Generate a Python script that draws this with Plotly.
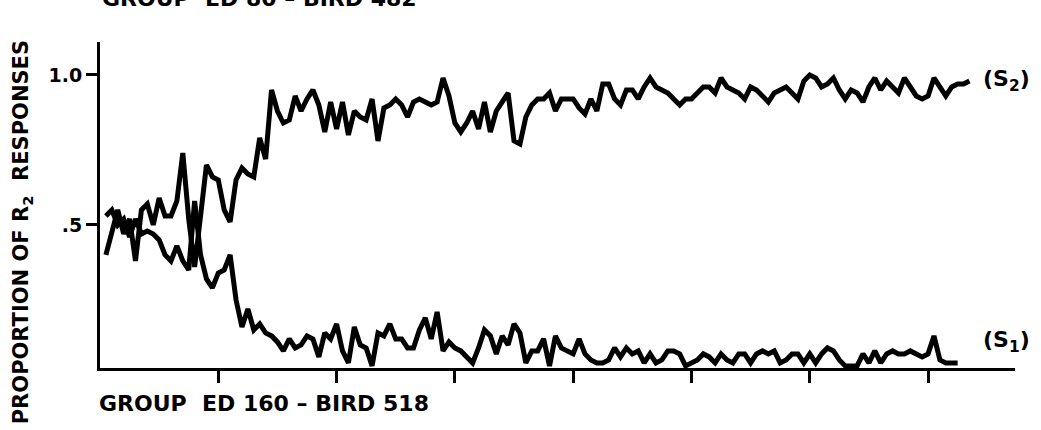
import plotly.graph_objects as go

# Session index (x) and proportion of R2 responses for each stimulus
sessions_s2 = list(range(1, 148))
s2_values = [
    0.40, 0.47, 0.55, 0.47, 0.52, 0.38, 0.55, 0.57, 0.50, 0.59,
    0.53, 0.53, 0.58, 0.74, 0.52, 0.36, 0.55, 0.70, 0.66, 0.65,
    0.55, 0.51, 0.65, 0.69, 0.67, 0.66, 0.79, 0.72, 0.95, 0.88,
    0.84, 0.85, 0.93, 0.88, 0.92, 0.95, 0.90, 0.81, 0.91, 0.82,
    0.91, 0.80, 0.88, 0.86, 0.85, 0.92, 0.78, 0.89, 0.90, 0.92,
    0.90, 0.86, 0.91, 0.92, 0.91, 0.90, 0.91, 0.99, 0.93, 0.84,
    0.81, 0.84, 0.88, 0.82, 0.91, 0.81, 0.88, 0.91, 0.94, 0.78,
    0.77, 0.86, 0.90, 0.92, 0.92, 0.94, 0.88, 0.92, 0.92, 0.92,
    0.89, 0.87, 0.92, 0.88, 0.97, 0.97, 0.92, 0.90, 0.95, 0.95,
    0.92, 0.96, 0.99, 0.96, 0.95, 0.94, 0.92, 0.90, 0.92, 0.92,
    0.94, 0.96, 0.96, 0.94, 0.99, 0.96, 0.95, 0.94, 0.92, 0.96,
    0.95, 0.93, 0.91, 0.94, 0.95, 0.96, 0.94, 0.92, 0.98, 1.00,
    0.99, 0.96, 0.97, 0.99, 0.95, 0.92, 0.95, 0.94, 0.91, 0.96,
    0.99, 0.95, 0.98, 0.96, 0.94, 0.99, 0.96, 0.93, 0.92, 0.93,
    0.99, 0.96, 0.93, 0.96, 0.97, 0.97, 0.98,
]

sessions_s1 = list(range(1, 146))
s1_values = [
    0.53, 0.55, 0.50, 0.52, 0.46, 0.52, 0.47, 0.48, 0.47, 0.45,
    0.40, 0.38, 0.43, 0.38, 0.35, 0.58, 0.40, 0.32, 0.29, 0.34,
    0.35, 0.40, 0.25, 0.16, 0.22, 0.15, 0.17, 0.14, 0.13, 0.11,
    0.08, 0.12, 0.09, 0.10, 0.13, 0.12, 0.06, 0.14, 0.12, 0.17,
    0.08, 0.04, 0.16, 0.10, 0.09, 0.03, 0.14, 0.13, 0.17, 0.12,
    0.12, 0.09, 0.09, 0.15, 0.19, 0.12, 0.21, 0.08, 0.11, 0.09,
    0.08, 0.06, 0.04, 0.09, 0.15, 0.13, 0.07, 0.13, 0.10, 0.17,
    0.14, 0.04, 0.08, 0.08, 0.12, 0.03, 0.13, 0.09, 0.08, 0.07,
    0.12, 0.07, 0.05, 0.04, 0.04, 0.05, 0.09, 0.06, 0.09, 0.07,
    0.08, 0.04, 0.07, 0.04, 0.05, 0.08, 0.08, 0.07, 0.03, 0.04,
    0.05, 0.07, 0.06, 0.04, 0.07, 0.05, 0.04, 0.07, 0.07, 0.04,
    0.07, 0.08, 0.07, 0.08, 0.04, 0.05, 0.07, 0.07, 0.04, 0.07,
    0.04, 0.07, 0.09, 0.08, 0.05, 0.03, 0.03, 0.03, 0.07, 0.04,
    0.08, 0.04, 0.07, 0.08, 0.07, 0.07, 0.08, 0.07, 0.06, 0.07,
    0.13, 0.05, 0.04, 0.04, 0.04,
]

x_tick_positions = [20, 40, 60, 80, 100, 120, 140]
y_tick_values = [0.5, 1.0]
y_tick_labels = [".5", "1.0"]

FONT = "DejaVu Sans, Verdana, sans-serif"
INK = "black"

fig = go.Figure()
for xs, ys, name in [(sessions_s2, s2_values, "S2"), (sessions_s1, s1_values, "S1")]:
    fig.add_trace(go.Scatter(
        x=xs, y=ys, mode="lines", name=name,
        line=dict(color=INK, width=5),
        hoverinfo="skip",
    ))

fig.update_layout(
    width=1041, height=430,
    margin=dict(l=100, r=26, t=42, b=62),
    paper_bgcolor="white", plot_bgcolor="white",
    showlegend=False,
    font=dict(family=FONT, color=INK),
)
fig.update_xaxes(
    range=[0, 154.7], showgrid=False, zeroline=False,
    showline=True, linecolor=INK, linewidth=3,
    ticks="outside", ticklen=12, tickwidth=3, tickcolor=INK,
    tickvals=x_tick_positions, showticklabels=False,
)
fig.update_yaxes(
    range=[0.023, 1.11], showgrid=False, zeroline=False,
    showline=True, linecolor=INK, linewidth=3,
    ticks="outside", ticklen=11, tickwidth=3, tickcolor=INK,
    tickvals=y_tick_values, ticktext=y_tick_labels,
    tickfont=dict(family=FONT, size=19, weight="bold", color=INK),
)

label_font = dict(family=FONT, size=22, weight="bold", color=INK)
annotations = [
    dict(text="GROUP  ED 80 \u2013 BIRD 482", x=0.0, y=1.132,
         xanchor="left", yanchor="middle", font=label_font),
    dict(text="GROUP  ED 160 \u2013 BIRD 518", x=-0.003, y=-0.11,
         xanchor="left", yanchor="middle", font=label_font),
    dict(text="PROPORTION OF R<sub>2</sub>  RESPONSES", x=-0.085, y=0.417,
         textangle=-90, xanchor="center", yanchor="middle",
         font=dict(family=FONT, size=21, weight="bold", color=INK)),
    dict(text="(S<sub>2</sub>)", x=0.963, y=0.883,
         xanchor="left", yanchor="middle",
         font=dict(family=FONT, size=22, weight="bold", color=INK)),
    dict(text="(S<sub>1</sub>)", x=0.963, y=0.08,
         xanchor="left", yanchor="middle",
         font=dict(family=FONT, size=22, weight="bold", color=INK)),
]
for a in annotations:
    fig.add_annotation(xref="paper", yref="paper", showarrow=False, **a)

fig.write_html("out.html")
